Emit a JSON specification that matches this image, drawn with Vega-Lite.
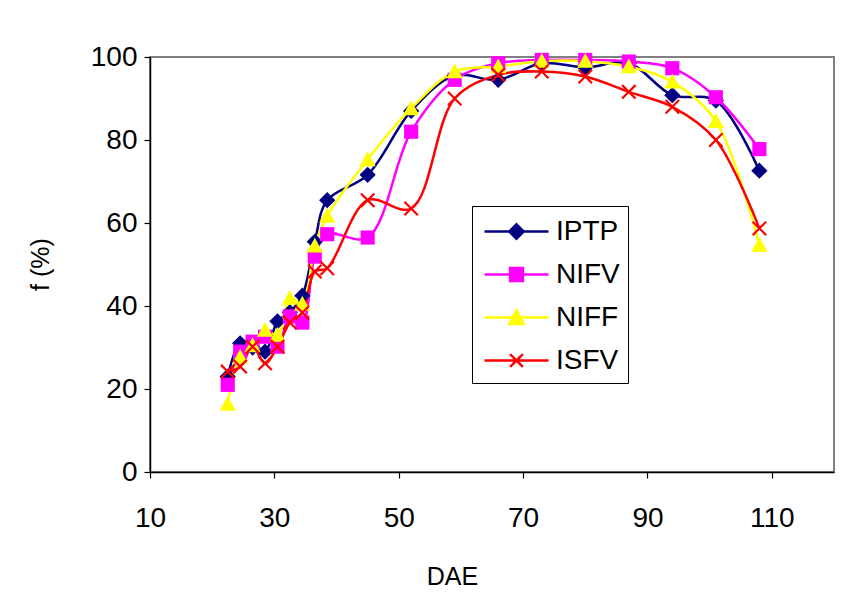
{
  "$schema": "https://vega.github.io/schema/vega-lite/v6.json",
  "width": 684,
  "height": 415,
  "autosize": "none",
  "padding": {"left": 150, "top": 57, "right": 16, "bottom": 122},
  "background": "white",
  "config": {
    "view": {"stroke": "#808080", "strokeWidth": 2},
    "font": "Liberation Sans",
    "axis": {"grid": false, "domainColor": "black", "domainWidth": 1.5, "tickColor": "black", "tickWidth": 1.2, "tickSize": 6, "labelFont": "Liberation Sans", "labelFontSize": 28, "labelColor": "black", "titleFont": "Liberation Sans", "titleFontSize": 25, "titleFontWeight": "normal", "titleColor": "black"}
  },
  "data": {"values": [
    {"dae": 22.5, "series": "IPTP", "f": 23}, {"dae": 24.5, "series": "IPTP", "f": 31}, {"dae": 26.5, "series": "IPTP", "f": 30}, {"dae": 28.5, "series": "IPTP", "f": 29}, {"dae": 30.5, "series": "IPTP", "f": 36.3}, {"dae": 32.5, "series": "IPTP", "f": 38.5}, {"dae": 34.5, "series": "IPTP", "f": 42.5}, {"dae": 36.5, "series": "IPTP", "f": 55.5}, {"dae": 38.5, "series": "IPTP", "f": 65.5}, {"dae": 45, "series": "IPTP", "f": 71.6}, {"dae": 52, "series": "IPTP", "f": 87}, {"dae": 59, "series": "IPTP", "f": 95.5}, {"dae": 66, "series": "IPTP", "f": 94.5}, {"dae": 73, "series": "IPTP", "f": 98.5}, {"dae": 80, "series": "IPTP", "f": 97.5}, {"dae": 87, "series": "IPTP", "f": 98.5}, {"dae": 94, "series": "IPTP", "f": 90.8}, {"dae": 101, "series": "IPTP", "f": 89.5}, {"dae": 108, "series": "IPTP", "f": 72.6},
    {"dae": 22.5, "series": "NIFV", "f": 21}, {"dae": 24.5, "series": "NIFV", "f": 29}, {"dae": 26.5, "series": "NIFV", "f": 31.4}, {"dae": 28.5, "series": "NIFV", "f": 32.6}, {"dae": 30.5, "series": "NIFV", "f": 30.2}, {"dae": 32.5, "series": "NIFV", "f": 37.5}, {"dae": 34.5, "series": "NIFV", "f": 36}, {"dae": 36.5, "series": "NIFV", "f": 51.9}, {"dae": 38.5, "series": "NIFV", "f": 57.3}, {"dae": 45, "series": "NIFV", "f": 56.5}, {"dae": 52, "series": "NIFV", "f": 82}, {"dae": 59, "series": "NIFV", "f": 94.5}, {"dae": 66, "series": "NIFV", "f": 98.5}, {"dae": 73, "series": "NIFV", "f": 99.3}, {"dae": 80, "series": "NIFV", "f": 99.3}, {"dae": 87, "series": "NIFV", "f": 98.9}, {"dae": 94, "series": "NIFV", "f": 97.3}, {"dae": 101, "series": "NIFV", "f": 90.3}, {"dae": 108, "series": "NIFV", "f": 77.8},
    {"dae": 22.5, "series": "NIFF", "f": 16.4}, {"dae": 24.5, "series": "NIFF", "f": 27.7}, {"dae": 26.5, "series": "NIFF", "f": 30.5}, {"dae": 28.5, "series": "NIFF", "f": 34.2}, {"dae": 30.5, "series": "NIFF", "f": 33}, {"dae": 32.5, "series": "NIFF", "f": 41.9}, {"dae": 34.5, "series": "NIFF", "f": 40.5}, {"dae": 36.5, "series": "NIFF", "f": 54.5}, {"dae": 38.5, "series": "NIFF", "f": 61.7}, {"dae": 45, "series": "NIFF", "f": 75.3}, {"dae": 52, "series": "NIFF", "f": 87.6}, {"dae": 59, "series": "NIFF", "f": 96.5}, {"dae": 66, "series": "NIFF", "f": 97.7}, {"dae": 73, "series": "NIFF", "f": 99}, {"dae": 80, "series": "NIFF", "f": 99}, {"dae": 87, "series": "NIFF", "f": 97.7}, {"dae": 94, "series": "NIFF", "f": 94}, {"dae": 101, "series": "NIFF", "f": 84.5}, {"dae": 108, "series": "NIFF", "f": 54.7},
    {"dae": 22.5, "series": "ISFV", "f": 24.2}, {"dae": 24.5, "series": "ISFV", "f": 25.4}, {"dae": 26.5, "series": "ISFV", "f": 30.2}, {"dae": 28.5, "series": "ISFV", "f": 26.2}, {"dae": 30.5, "series": "ISFV", "f": 30.2}, {"dae": 32.5, "series": "ISFV", "f": 36}, {"dae": 34.5, "series": "ISFV", "f": 38.4}, {"dae": 36.5, "series": "ISFV", "f": 48.3}, {"dae": 38.5, "series": "ISFV", "f": 49.1}, {"dae": 45, "series": "ISFV", "f": 65.5}, {"dae": 52, "series": "ISFV", "f": 63.5}, {"dae": 59, "series": "ISFV", "f": 90}, {"dae": 66, "series": "ISFV", "f": 95.7}, {"dae": 73, "series": "ISFV", "f": 96.5}, {"dae": 80, "series": "ISFV", "f": 95.3}, {"dae": 87, "series": "ISFV", "f": 91.6}, {"dae": 94, "series": "ISFV", "f": 88}, {"dae": 101, "series": "ISFV", "f": 80}, {"dae": 108, "series": "ISFV", "f": 58.7}
  ]},
  "encoding": {
    "x": {"field": "dae", "type": "quantitative", "scale": {"domain": [10, 120], "nice": false, "zero": false},
      "axis": {"values": [10, 30, 50, 70, 90, 110], "title": "DAE", "labelPadding": 26, "labelFlush": false, "titleX": 302, "titleY": 104, "titleBaseline": "middle", "titleAnchor": null}},
    "y": {"field": "f", "type": "quantitative", "scale": {"domain": [0, 100], "nice": false},
      "axis": {"values": [0, 20, 40, 60, 80, 100], "title": "f (%)", "labelPadding": 7, "labelFlush": false, "titleX": -110, "titleY": 207, "titleBaseline": "middle", "titleAngle": -90}}
  },
  "layer": [
    {
      "mark": {"type": "line", "interpolate": "catmull-rom", "strokeWidth": 2.5},
      "encoding": {
        "color": {"field": "series", "type": "nominal", "scale": {"domain": ["IPTP", "NIFV", "NIFF", "ISFV"], "range": ["#000080", "#FF00FF", "#FFFF00", "#FF0000"]},
          "legend": {
            "orient": "none", "legendX": 322, "legendY": 149, "title": null,
            "strokeColor": "black", "padding": 8, "fillColor": "white",
            "labelFont": "Liberation Sans", "labelFontSize": 28, "labelColor": "black",
            "symbolSize": 1024, "symbolOffset": 19, "labelOffset": 22, "rowPadding": 11,
            "symbolStrokeWidth": 2.5,
            "encode": {"symbols": {"update": {
              "shape": {"signal": "datum.value === 'IPTP' ? 'M-2,0H2M0,-0.45L0.45,0L0,0.45L-0.45,0Z' : datum.value === 'NIFV' ? 'M-2,0H2M-0.4,-0.4H0.4V0.4H-0.4Z' : datum.value === 'NIFF' ? 'M-2,0H2M0,-0.45L0.45,0.4H-0.45Z' : 'M-2,0H2M-0.4,-0.4L0.4,0.4M-0.4,0.4L0.4,-0.4'"},
              "fill": {"signal": "datum.value === 'IPTP' ? '#000080' : datum.value === 'NIFV' ? '#FF00FF' : datum.value === 'NIFF' ? '#FFFF00' : 'transparent'"},
              "stroke": {"signal": "datum.value === 'IPTP' ? '#000080' : datum.value === 'NIFV' ? '#FF00FF' : datum.value === 'NIFF' ? '#FFFF00' : '#FF0000'"},
              "strokeWidth": {"value": 2.5},
              "size": {"value": 1024},
              "opacity": {"value": 1}
            }}}
          }
        }
      }
    },
    {
      "transform": [{"filter": "datum.series !== 'ISFV'"}],
      "mark": {"type": "point", "filled": true, "opacity": 1, "size": 200},
      "encoding": {
        "fill": {"field": "series", "type": "nominal", "legend": null, "scale": {"domain": ["IPTP", "NIFV", "NIFF"], "range": ["#000080", "#FF00FF", "#FFFF00"]}},
        "shape": {"field": "series", "type": "nominal", "legend": null, "scale": {"domain": ["IPTP", "NIFV", "NIFF"], "range": ["M0,-1.15L1.15,0L0,1.15L-1.15,0Z", "M-1,-1H1V1H-1Z", "M0,-1.15L1.15,0.95H-1.15Z"]}}
      }
    },
    {
      "transform": [{"filter": "datum.series === 'ISFV'"}],
      "mark": {"type": "point", "filled": false, "color": "#FF0000", "shape": "M-1,-1L1,1M-1,1L1,-1", "size": 180, "strokeWidth": 2.2, "opacity": 1}
    }
  ]
}
